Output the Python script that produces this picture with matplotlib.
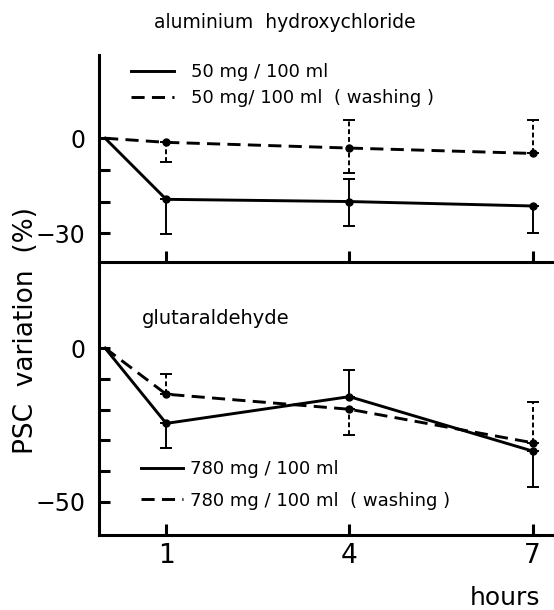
import matplotlib
matplotlib.use('Agg')
import matplotlib.pyplot as plt
from matplotlib.lines import Line2D

# ---------------- data ----------------
hours = [0, 1, 4, 7]
hour_ticks = [1, 4, 7]
hour_labels = ['1', '4', '7']

alu_title = 'aluminium  hydroxychloride'
alu_labels = ['50 mg / 100 ml', '50 mg/ 100 ml  ( washing )']
alu = [0, -19.3, -20.0, -21.4]
alu_err_lo = [10.8, 7.6, 8.4]
alu_err_hi = [0, 7.0, 0]
alu_wash = [0, -1.3, -3.1, -4.8]
alu_wash_err_lo = [6.3, 8.0, 0]
alu_wash_err_hi = [0, 8.8, 10.5]
alu_yticks = [0, -10, -20, -30]
alu_yticklabels = ['0', '', '', '\u221230']

glu_title = 'glutaraldehyde'
glu_labels = ['780 mg / 100 ml', '780 mg / 100 ml  ( washing )']
glu = [0, -24.5, -15.8, -33.5]
glu_err_lo = [8.1, 0, 11.8]
glu_err_hi = [0, 8.6, 0]
glu_wash = [0, -15.0, -19.9, -30.8]
glu_wash_err_lo = [0, 8.4, 0]
glu_wash_err_hi = [6.5, 0, 13.1]
glu_yticks = [0, -10, -20, -30, -40, -50]
glu_yticklabels = ['0', '', '', '', '', '\u221250']

ylabel = 'PSC  variation  (%)'
xlabel = 'hours'

# ---------------- style ----------------
W, H = 554, 610
fig = plt.figure(figsize=(W / 100, H / 100), dpi=100)
plt.rcParams['font.family'] = ['DejaVu Sans']

LW = 2.1
SPINE = 2.2
DASH = (4.5, 2.5)


def px_rect(left, top, right, bottom):
    return [left / W, 1 - bottom / H, (right - left) / W, (bottom - top) / H]


ax1 = fig.add_axes(px_rect(99, 55, 554, 262))
ax2 = fig.add_axes(px_rect(99, 262, 554, 535))


def style_axes(ax, ylim, yticks, yticklabels, xlabels):
    ax.set_xlim(-0.1, 7.35)
    ax.set_ylim(*ylim)
    for s in ['top', 'right']:
        ax.spines[s].set_visible(False)
    for s in ['left', 'bottom']:
        ax.spines[s].set_linewidth(SPINE)
        ax.spines[s].set_capstyle('projecting')
    ax.set_yticks(yticks)
    ax.set_yticklabels(yticklabels)
    ax.set_xticks(hour_ticks)
    if xlabels:
        ax.set_xticklabels(hour_labels)
    else:
        ax.set_xticklabels([])
    ax.tick_params(axis='y', direction='in', length=8, width=SPINE,
                   labelsize=17, pad=10)
    ax.tick_params(axis='x', direction='in', length=8, width=SPINE,
                   labelsize=19, pad=6)
    ax.patch.set_alpha(0)


def draw_series(ax, y, lo, hi, dashed):
    ls = (0, DASH) if dashed else '-'
    ax.plot(hours, y, color='black', lw=LW, linestyle=ls, zorder=3)
    eb = ax.errorbar(hours[1:], y[1:], yerr=[lo, hi], fmt='o', color='black',
                     ms=5, elinewidth=1.4, capsize=4, capthick=1.4, zorder=4)
    if dashed:
        eb[2][0].set_linestyle((0, (2.5, 1.5)))


style_axes(ax1, (-39.1, 26.3), alu_yticks, alu_yticklabels, False)
style_axes(ax2, (-60.8, 28.0), glu_yticks, glu_yticklabels, True)

draw_series(ax1, alu, alu_err_lo, alu_err_hi, False)
draw_series(ax1, alu_wash, alu_wash_err_lo, alu_wash_err_hi, True)
draw_series(ax2, glu, glu_err_lo, glu_err_hi, False)
draw_series(ax2, glu_wash, glu_wash_err_lo, glu_wash_err_hi, True)

# legends
h_solid = Line2D([], [], color='black', lw=LW)
h_dash = Line2D([], [], color='black', lw=LW, linestyle=(0, DASH))

leg1 = ax1.legend([h_solid, h_dash], alu_labels, loc='upper left',
                  bbox_to_anchor=(131 / W, 1 - 63 / H), bbox_transform=fig.transFigure,
                  frameon=False, fontsize=13, handlelength=2.4, handletextpad=0.9,
                  labelspacing=0.45, borderpad=0, borderaxespad=0)
leg2 = ax2.legend([h_solid, h_dash], glu_labels, loc='upper left',
                  bbox_to_anchor=(141 / W, 1 - 460 / H), bbox_transform=fig.transFigure,
                  frameon=False, fontsize=13, handlelength=2.3, handletextpad=0.4,
                  labelspacing=0.75, borderpad=0, borderaxespad=0)

# titles and labels
fig.text(285 / W, 1 - 23 / H, alu_title, ha='center', va='center', fontsize=13.5)
fig.text(142 / W, 1 - 318 / H, glu_title, ha='left', va='center', fontsize=14)
fig.text(26 / W, 1 - 330 / H, ylabel, ha='center', va='center', rotation=90, fontsize=19)
fig.text(505 / W, 1 - 598 / H, xlabel, ha='center', va='center', fontsize=18)

fig.savefig('out.png', dpi=100)
